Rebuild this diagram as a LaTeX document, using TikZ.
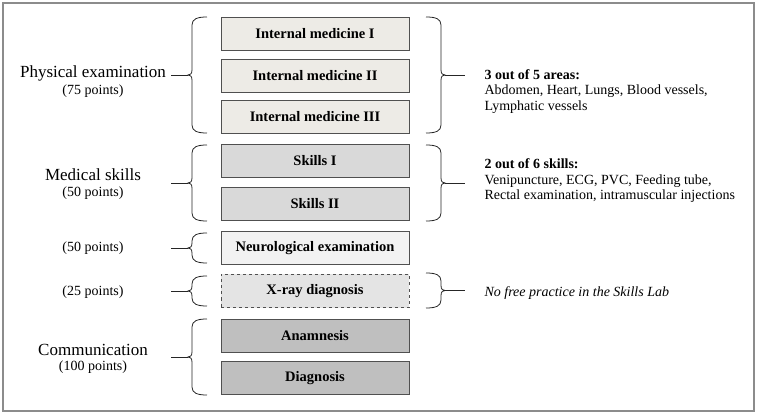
\documentclass[tikz,border=0pt]{standalone}
\usepackage{fontspec}
\setmainfont{Liberation Serif}
\usetikzlibrary{patterns.meta}

\definecolor{frameGray}{HTML}{8C8C8C}
\definecolor{boxLine}{HTML}{505050}
\definecolor{peFill}{HTML}{EDEBE6}
\definecolor{msFill}{HTML}{D9D9D9}
\definecolor{neFill}{HTML}{F2F2F2}
\definecolor{coFill}{HTML}{BFBFBF}

\tikzset{
  box/.style={draw=boxLine, line width=0.8pt, minimum width=188pt, minimum height=33pt,
    inner sep=0pt, font=\fontsize{14.5}{16}\selectfont\bfseries},
  pebox/.style={box, fill=peFill},
  msbox/.style={box, fill=msFill},
  nebox/.style={box, fill=neFill},
  xrbox/.style={box, dashed, pattern={Dots[distance=2pt,radius=0.6pt]}, pattern color=black!45},
  cobox/.style={box, fill=coFill},
  group/.style={font=\fontsize{17}{19}\selectfont},
  points/.style={font=\fontsize{14}{16}\selectfont},
  note/.style={font=\fontsize{14}{15.5}\selectfont, align=left, anchor=west},
  brace line/.style={line width=0.8pt, black!85}
}

% left brace: name, x, top, bottom
\newcommand{\leftbr}[4]{%
  \draw[brace line] (#2+15,#3) .. controls (#2+5,#3) and (#2,#3+2) .. (#2,#3+8)
    -- (#2,{(#3+#4)/2-5}) .. controls (#2,{(#3+#4)/2-1}) and (#2-2,{(#3+#4)/2}) .. (#2-4,{(#3+#4)/2})
    .. controls (#2-2,{(#3+#4)/2}) and (#2,{(#3+#4)/2+1}) .. (#2,{(#3+#4)/2+5})
    -- (#2,#4-8) .. controls (#2,#4-2) and (#2+5,#4) .. (#2+15,#4);
  \coordinate (#1) at (#2-4,{(#3+#4)/2});}
% right brace: name, x, top, bottom
\newcommand{\rightbr}[4]{%
  \draw[brace line] (#2-15,#3) .. controls (#2-5,#3) and (#2,#3+2) .. (#2,#3+8)
    -- (#2,{(#3+#4)/2-5}) .. controls (#2,{(#3+#4)/2-1}) and (#2+2,{(#3+#4)/2}) .. (#2+4,{(#3+#4)/2})
    .. controls (#2+2,{(#3+#4)/2}) and (#2,{(#3+#4)/2+1}) .. (#2,{(#3+#4)/2+5})
    -- (#2,#4-8) .. controls (#2,#4-2) and (#2-5,#4) .. (#2-15,#4);
  \coordinate (#1) at (#2+4,{(#3+#4)/2});}

\begin{document}
\begin{tikzpicture}[x=1pt,y=-1pt]
	\useasboundingbox (0,0) rectangle (758,414);
	\draw[frameGray, line width=1.3pt] (3,3) rectangle (754,411);

	% boxes
	\node[pebox] (im1) at (315,34) {Internal medicine I};
	\node[pebox] (im2) at (315,76) {Internal medicine II};
	\node[pebox] (im3) at (315,117) {Internal medicine III};
	\node[msbox] (sk1) at (315,161) {Skills I};
	\node[msbox] (sk2) at (315,204) {Skills II};
	\node[nebox] (neuro) at (315,248) {Neurological examination};
	\node[xrbox] (xray) at (315,291) {X-ray diagnosis};
	\node[cobox] (anam) at (315,336) {Anamnesis};
	\node[cobox] (diag) at (315,378) {Diagnosis};

	% braces
	\leftbr{pe-l}{192}{17}{133}
	\leftbr{ms-l}{192}{145}{221}
	\leftbr{ne-l}{192}{233}{263}
	\leftbr{xr-l}{192}{276}{306}
	\leftbr{co-l}{192}{319}{395}
	\rightbr{pe-r}{441}{17}{133}
	\rightbr{ms-r}{441}{145}{221}
	\rightbr{xr-r}{441}{273}{308}

	% left labels
	\node[group] (pe) at (93,73) {Physical examination};
	\node[points] (pe-pts) at (93,91) {(75 points)};
	\node[group] (ms) at (93,175) {Medical skills};
	\node[points] (ms-pts) at (93,193) {(50 points)};
	\node[points] (ne-pts) at (93,248) {(50 points)};
	\node[points] (xr-pts) at (93,292) {(25 points)};
	\node[group] (co) at (93,350) {Communication};
	\node[points] (co-pts) at (93,367) {(100 points)};

	\coordinate (pe-s) at (171,75);
	\coordinate (ms-s) at (171,183);
	\coordinate (ne-s) at (171,248);
	\coordinate (xr-s) at (171,291);
	\coordinate (co-s) at (171,357);
	\foreach \g in {pe,ms,ne,xr,co}
		\draw[brace line] (\g-s) -- (\g-l);

	% right notes
	\coordinate (pe-e) at (465,75);
	\coordinate (ms-e) at (465,183);
	\coordinate (xr-e) at (465,290.5);
	\foreach \g in {pe,ms,xr}
		\draw[brace line] (\g-r) -- (\g-e);

	\node[note, anchor=north west] (pe-note) at (481,66) {\textbf{3 out of 5 areas:}\\Abdomen, Heart, Lungs, Blood vessels,\\Lymphatic vessels};
	\node[note] (ms-note) at (481,181) {\textbf{2 out of 6 skills:}\\Venipuncture, ECG, PVC, Feeding tube,\\Rectal examination, intramuscular injections};
	\node[note] (xr-note) at (481,293) {\itshape No free practice in the Skills Lab};
\end{tikzpicture}
\end{document}
